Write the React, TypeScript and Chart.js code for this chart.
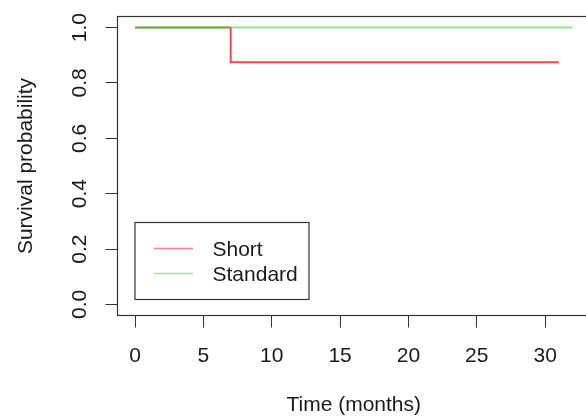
import React, { useEffect, useRef } from "react";
import { Chart, registerables } from "chart.js";

Chart.register(...registerables);

// ---- data ----
const shortTimes = [0, 7, 7, 31];
const shortSurvival = [1, 1, 0.875, 0.875];
const standardTimes = [0, 32];
const standardSurvival = [1, 1];
const seriesNames = ["Short", "Standard"];
const xTickValues = [0, 5, 10, 15, 20, 25, 30];
const yTickValues = [0, 0.2, 0.4, 0.6, 0.8, 1.0];
const xRange = [-1.28, 33.28];
const yRange = [-0.04, 1.04];
const xTitle = "Time (months)";
const yTitle = "Survival probability";

const FONT = "'Liberation Sans', Arial, Helvetica, sans-serif";
const FONT_SIZE = 21;
const TEXT = "#1a1a1a";
const AXIS = "#333333";
const RED = "#ff4646";
const GREEN = "#8ee68e";
const OLIVE = "#8c9a3e";
const LEGEND_RED = "#ff7a7a";
const LEGEND_GREEN = "#98e898";

const framePlugin = {
  id: "frame",
  afterDatasetsDraw(chart: any) {
    const { ctx, chartArea: a } = chart;
    ctx.save();
    ctx.strokeStyle = AXIS;
    ctx.lineWidth = 1.2;
    ctx.strokeRect(a.left, a.top, a.right - a.left, a.bottom - a.top);
    ctx.restore();
  },
};

const legendPlugin = {
  id: "rLegend",
  afterDraw(chart: any) {
    const { ctx, chartArea: a } = chart;
    const left = a.left + 17.5;
    const bottom = a.bottom - 16;
    const w = 174;
    const h = 77;
    const top = bottom - h;
    ctx.save();
    ctx.fillStyle = "#ffffff";
    ctx.fillRect(left, top, w, h);
    ctx.strokeStyle = AXIS;
    ctx.lineWidth = 1.2;
    ctx.strokeRect(left, top, w, h);
    chart.data.datasets.forEach((ds: any, i: number) => {
      const y = top + 26 + i * 25;
      ctx.strokeStyle = ds.legendColor;
      ctx.lineWidth = 1.5;
      ctx.beginPath();
      ctx.moveTo(left + 19, y);
      ctx.lineTo(left + 58, y);
      ctx.stroke();
      ctx.fillStyle = TEXT;
      ctx.font = `${FONT_SIZE}px ${FONT}`;
      ctx.textBaseline = "middle";
      ctx.textAlign = "left";
      ctx.fillText(ds.label, left + 77.5, y + 1.5);
    });
    ctx.restore();
  },
};

export default function App() {
  const ref = useRef<HTMLCanvasElement | null>(null);

  useEffect(() => {
    if (!ref.current) return;
    const tickFont = { family: FONT, size: FONT_SIZE };
    const chart = new Chart(ref.current, {
      type: "line",
      data: {
        datasets: [
          {
            label: seriesNames[0],
            data: shortTimes.map((t, i) => ({ x: t, y: shortSurvival[i] })),
            borderColor: RED,
            legendColor: LEGEND_RED,
            borderWidth: 2,
            pointRadius: 0,
            tension: 0,
            fill: false,
            segment: {
              borderColor: (c: any) =>
                c.p0.parsed.y === standardSurvival[0] && c.p1.parsed.y === standardSurvival[0]
                  ? OLIVE
                  : undefined,
            },
          } as any,
          {
            label: seriesNames[1],
            data: standardTimes.map((t, i) => ({ x: t, y: standardSurvival[i] })),
            borderColor: GREEN,
            legendColor: LEGEND_GREEN,
            borderWidth: 2,
            pointRadius: 0,
            tension: 0,
            fill: false,
          } as any,
        ],
      },
      options: {
        animation: false,
        responsive: false,
        devicePixelRatio: 1,
        layout: { padding: { left: 0, top: 16.5, right: 10, bottom: 0 } },
        plugins: {
          legend: { display: false },
          tooltip: { enabled: false },
        },
        scales: {
          x: {
            type: "linear",
            min: xRange[0],
            max: xRange[1],
            afterBuildTicks: (s: any) => {
              s.ticks = xTickValues.map((v) => ({ value: v }));
            },
            afterFit: (s: any) => {
              s.height = 102.5;
              s.paddingLeft = 0;
              s.paddingRight = 0;
              s.paddingTop = 0;
              s.paddingBottom = 0;
            },
            grid: {
              drawOnChartArea: false,
              drawTicks: true,
              tickLength: 12,
              color: AXIS,
              lineWidth: 1,
            },
            border: { display: false },
            ticks: {
              autoSkip: false,
              maxRotation: 0,
              minRotation: 0,
              padding: 16.3,
              font: tickFont,
              color: TEXT,
              callback: (v: any) => String(v),
            },
            title: {
              display: true,
              text: xTitle,
              font: tickFont,
              color: TEXT,
              padding: { top: 0, bottom: 0 },
            },
          },
          y: {
            type: "linear",
            min: yRange[0],
            max: yRange[1],
            afterBuildTicks: (s: any) => {
              s.ticks = yTickValues.map((v) => ({ value: v }));
            },
            afterFit: (s: any) => {
              s.width = 117.5;
              s.paddingLeft = 0;
              s.paddingRight = 0;
              s.paddingTop = 0;
              s.paddingBottom = 0;
            },
            grid: {
              drawOnChartArea: false,
              drawTicks: true,
              tickLength: 12,
              color: AXIS,
              lineWidth: 1,
            },
            border: { display: false },
            ticks: {
              autoSkip: false,
              minRotation: 90,
              maxRotation: 90,
              crossAlign: "center",
              padding: 10.9,
              font: tickFont,
              color: TEXT,
              callback: (v: any) => Number(v).toFixed(1),
            },
            title: {
              display: true,
              text: yTitle,
              font: tickFont,
              color: TEXT,
              padding: { top: 13.8, bottom: 0 },
            },
          },
        },
      } as any,
      plugins: [framePlugin, legendPlugin],
    });
    return () => chart.destroy();
  }, []);

  return (
    <div
      style={{
        position: "fixed",
        left: 0,
        top: 0,
        width: 586,
        height: 418,
        overflow: "hidden",
        background: "#ffffff",
      }}
    >
      <canvas ref={ref} width={600} height={418} style={{ width: 600, height: 418, display: "block" }} />
    </div>
  );
}
